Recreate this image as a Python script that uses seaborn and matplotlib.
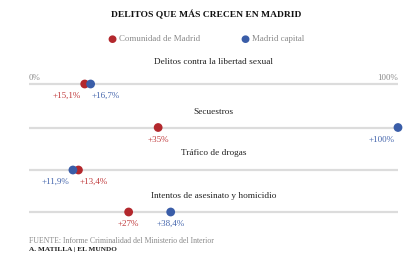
import matplotlib
matplotlib.use("Agg")
import matplotlib.pyplot as plt
import seaborn as sns
import pandas as pd

categories = ["Delitos contra la libertad sexual", "Secuestros",
              "Tráfico de drogas", "Intentos de asesinato y homicidio"]
series = ["Comunidad de Madrid", "Madrid capital"]
comunidad = [15.1, 35, 13.4, 27]
capital = [16.7, 100, 11.9, 38.4]
labels_comunidad = ["+15,1%", "+35%", "+13,4%", "+27%"]
labels_capital = ["+16,7%", "+100%", "+11,9%", "+38,4%"]
title = "DELITOS QUE MÁS CRECEN EN MADRID"
source = "FUENTE: Informe Criminalidad del Ministerio del Interior"
credit = "A. MATILLA | EL MUNDO"

RED = "#b3282d"
BLUE = "#3a5da8"
RED_T = "#c0393b"
BLUE_T = "#4566ad"
GRAY = "#8a8a8a"
LINE = "#dcdcdc"

sns.set_theme(style="white")
plt.rcParams["font.family"] = ["Liberation Serif", "DejaVu Serif"]

W, H = 412, 263
fig = plt.figure(figsize=(W / 100, H / 100), dpi=100)
ax = fig.add_axes([0, 0, 1, 1])
px = 369 / 100.0
x0 = -29 / px
ax.set_xlim(x0, x0 + W / px)
ax.set_ylim(H, 0)
ax.axis("off")

row_y = [84, 127.5, 170, 212]
title_gap = [22, 16, 17, 16]

rows = []
for i, c in enumerate(categories):
    rows.append({"cat": c, "y": row_y[i], "serie": series[0], "val": comunidad[i]})
    rows.append({"cat": c, "y": row_y[i], "serie": series[1], "val": capital[i]})
df = pd.DataFrame(rows)

for i, c in enumerate(categories):
    ax.hlines(row_y[i], 0, 100, color=LINE, lw=1.6, zorder=1)
    ax.text(50, row_y[i] - title_gap[i], c, ha="center", va="center",
            fontsize=6.7, color="#222222")

sns.scatterplot(data=df, x="val", y="y", hue="serie", palette=[RED, BLUE],
                s=40, edgecolor="none", legend=False, ax=ax, zorder=3)

for i in range(len(categories)):
    a, b = comunidad[i], capital[i]
    for v, lab, col, other in [(a, labels_comunidad[i], RED_T, b),
                               (b, labels_capital[i], BLUE_T, a)]:
        if v >= 100:
            ha, dx = "right", -3
        elif abs(v - other) < 5:
            ha, dx = ("right", -4) if v < other else ("left", 1)
        else:
            ha, dx = "center", 0
        ax.annotate(lab, (v, row_y[i]), xytext=(dx, -8), textcoords="offset pixels",
                    ha=ha, va="top", fontsize=6.5, color=col)

ax.text(0, 78, "0%", ha="left", va="center", fontsize=6.4, color=GRAY)
ax.text(100, 78, "100%", ha="right", va="center", fontsize=6.4, color=GRAY)

fig.text(0.5, 1 - 15 / H, title, ha="center", va="center", fontsize=6.8,
         fontweight="bold", color="#111111")

# legend
lx = [112, 245]
for xpix, col, name in zip(lx, [RED, BLUE], series):
    fig.text(xpix / W, 1 - 39 / H, "●", ha="center", va="center", fontsize=7.5,
             color=col, family=["DejaVu Sans"])
    fig.text((xpix + 7) / W, 1 - 39 / H, name, ha="left", va="center",
             fontsize=6.4, color=GRAY)

fig.text(29 / W, 1 - 241 / H, source, ha="left", va="center", fontsize=5.6, color=GRAY)
fig.text(29 / W, 1 - 249 / H, credit, ha="left", va="center", fontsize=5.2,
         fontweight="bold", color="#222222")

fig.savefig("out.png", dpi=100)
